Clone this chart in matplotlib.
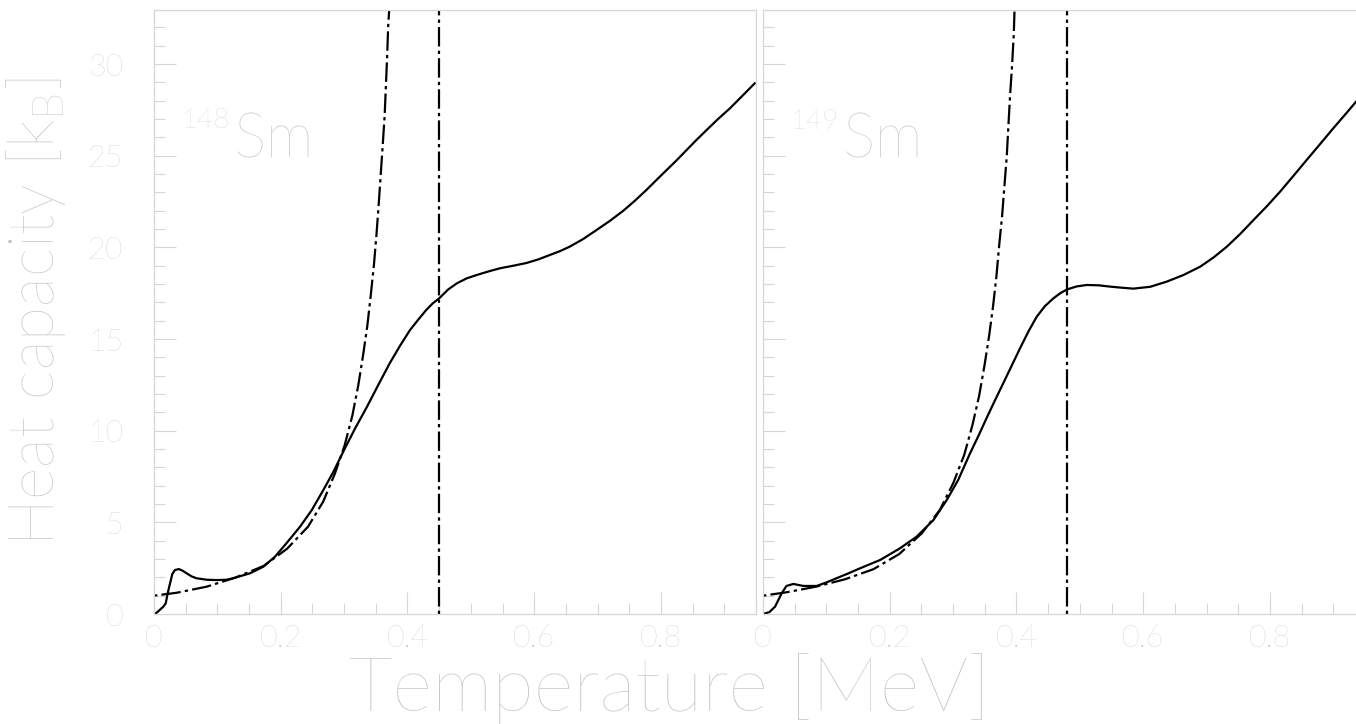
import matplotlib
matplotlib.use("Agg")
import matplotlib.pyplot as plt
from matplotlib.ticker import MultipleLocator

# ---------------- data ----------------
# 148Sm : solid curve
T148_solid = [0, 0.0042, 0.0147, 0.0185, 0.0216, 0.0253, 0.0289, 0.0331, 0.0394, 0.0452, 0.0515,
              0.0594, 0.067, 0.083, 0.099, 0.1147, 0.125, 0.1515, 0.1725, 0.191, 0.209, 0.2304,
              0.249, 0.267, 0.283, 0.300, 0.317, 0.336, 0.354, 0.372, 0.388, 0.404, 0.418, 0.430,
              0.440, 0.450, 0.4644, 0.478, 0.4934, 0.509, 0.527, 0.546, 0.567, 0.588, 0.607, 0.625,
              0.641, 0.656, 0.677, 0.6985, 0.7196, 0.7406, 0.759, 0.777, 0.793, 0.809, 0.825,
              0.8405, 0.856, 0.872, 0.890, 0.909, 0.928, 0.948]
C148_solid = [0, 0.07, 0.40, 0.58, 1.13, 1.67, 2.18, 2.40, 2.45, 2.36, 2.22,
              2.05, 1.95, 1.87, 1.85, 1.87, 1.95, 2.22, 2.58, 3.13, 3.86, 4.76,
              5.67, 6.75, 7.75, 8.95, 10.1, 11.3, 12.5, 13.68, 14.62, 15.49, 16.1, 16.6,
              16.95, 17.22, 17.71, 18.04, 18.31, 18.49, 18.68, 18.86, 19.0, 19.15, 19.35, 19.59,
              19.8, 20.04, 20.45, 20.95, 21.45, 22.0, 22.55, 23.13, 23.68, 24.22, 24.76,
              25.31, 25.86, 26.40, 27.0, 27.59, 28.25, 28.95]
# 148Sm : dash-dotted curve
T148_dd = [0, 0.036, 0.083, 0.128, 0.173, 0.210, 0.243, 0.267, 0.2856, 0.301, 0.313, 0.3224,
           0.330, 0.3366, 0.342, 0.347, 0.351, 0.3545, 0.3577, 0.361, 0.364, 0.366, 0.368, 0.3697,
           0.3713, 0.373]
C148_dd = [1.0, 1.16, 1.49, 1.98, 2.62, 3.56, 4.76, 6.13, 7.67, 9.22, 10.82, 12.48,
           14.13, 15.71, 17.37, 19.02, 20.66, 22.3, 23.93, 25.6, 27.2, 28.86, 30.5, 32.19,
           33.0, 34.0]
Tc148 = 0.450

# 149Sm : solid curve
T149_solid = [0, 0.010, 0.019, 0.0295, 0.037, 0.048, 0.0636, 0.0847, 0.100, 0.116, 0.135, 0.153,
              0.185, 0.216, 0.2425, 0.269, 0.290, 0.308, 0.3268, 0.340, 0.353, 0.366, 0.3793,
              0.3925, 0.4057, 0.419, 0.432, 0.445, 0.4583, 0.469, 0.480, 0.495, 0.511, 0.530,
              0.5477, 0.566, 0.5845, 0.611, 0.637, 0.664, 0.690, 0.711, 0.732, 0.753, 0.774,
              0.795, 0.816, 0.837, 0.858, 0.879, 0.900, 0.918, 0.936]
C149_solid = [0, 0.1, 0.4, 1.13, 1.53, 1.64, 1.53, 1.53, 1.72, 1.95, 2.22, 2.49,
              2.95, 3.58, 4.22, 5.13, 6.22, 7.31, 8.77, 9.72, 10.7, 11.65, 12.6,
              13.55, 14.5, 15.42, 16.22, 16.8, 17.22, 17.5, 17.71, 17.87, 17.95, 17.93,
              17.86, 17.8, 17.75, 17.85, 18.13, 18.5, 18.95, 19.45, 20.04, 20.73, 21.49,
              22.24, 23.04, 23.9, 24.77, 25.63, 26.50, 27.22, 27.95]
# 149Sm : dash-dotted curve
T149_dd = [0, 0.0363, 0.0837, 0.129, 0.174, 0.215, 0.2505, 0.279, 0.3005, 0.3178, 0.3304,
           0.341, 0.3494, 0.3568, 0.3631, 0.3684, 0.3726, 0.3773, 0.381, 0.3847, 0.3872,
           0.3899, 0.393, 0.3957, 0.397, 0.398]
C149_dd = [1.0, 1.18, 1.49, 1.89, 2.44, 3.27, 4.40, 5.67, 7.16, 8.71, 10.29,
           11.89, 13.53, 15.17, 16.80, 18.44, 20.08, 21.71, 23.35, 24.99, 26.6,
           28.28, 29.9, 31.6, 33.0, 34.0]
Tc149 = 0.480

x_ticks = [0, 0.2, 0.4, 0.6, 0.8]
x_ticklabels = ["0", "0.2", "0.4", "0.6", "0.8"]
y_ticks = [0, 5, 10, 15, 20, 25, 30]
y_ticklabels = ["0", "5", "10", "15", "20", "25", "30"]

# ---------------- style ----------------
plt.rcParams['font.family'] = ['Lato', 'DejaVu Sans']
plt.rcParams['lines.scale_dashes'] = False
TXT = '#c6c6c6'
FRAME = '#d6d6d6'
DASHDOT = (0, (2.4, 3.0, 14.0, 3.0))

W, H = 1356, 724
fig = plt.figure(figsize=(W / 100, H / 100), dpi=100)

def px_axes(x0, x1, ytop, ybot):
    return fig.add_axes([x0 / W, 1 - ybot / H, (x1 - x0) / W, (ybot - ytop) / H])

axL = px_axes(154, 756, 10, 614)
axR = px_axes(763, 1365, 10, 614)

panels = [
    (axL, T148_solid, C148_solid, T148_dd, C148_dd, Tc148, "148"),
    (axR, T149_solid, C149_solid, T149_dd, C149_dd, Tc149, "149"),
]

for ax, ts, cs, td, cd, tc, mass in panels:
    ax.set_xlim(0, 0.95)
    ax.set_ylim(0, 32.95)
    ax.plot(ts, cs, color='black', lw=1.6, solid_joinstyle='round')
    ax.plot(td, cd, color='black', lw=1.6, linestyle=DASHDOT, dash_capstyle='butt')
    ax.axvline(tc, color='black', lw=1.6, linestyle=DASHDOT, dash_capstyle='butt')
    for s in ax.spines.values():
        s.set_color(FRAME)
        s.set_linewidth(0.9)
    ax.set_xticks(x_ticks)
    ax.set_xticklabels(x_ticklabels)
    ax.set_yticks(y_ticks)
    ax.xaxis.set_minor_locator(MultipleLocator(0.05))
    ax.yaxis.set_minor_locator(MultipleLocator(1))
    ax.tick_params(which='both', direction='in', color=FRAME, width=0.8,
                   top=False, right=False, labelcolor=TXT, labelsize=22)
    ax.tick_params(which='major', length=16)
    ax.tick_params(which='minor', length=8)
    ax.tick_params(axis='x', which='major', pad=7)
    ax.tick_params(axis='y', which='major', pad=22)
    # nucleus label
    ax.text(0.044, 26.5, mass, color=TXT, fontsize=20, fontweight='light',
            ha='left', va='baseline')
    ax.text(0.125, 24.93, "Sm", color=TXT, fontsize=44, fontweight='light',
            ha='left', va='baseline')
    for lab in ax.get_xticklabels() + ax.get_yticklabels():
        lab.set_fontweight('light')

axL.set_yticklabels(y_ticklabels)
axR.set_yticklabels([])

fig.text(36 / W, 1 - 312 / H, r"Heat capacity [k$_{\mathregular{B}}$]", rotation=90,
         color=TXT, fontsize=45, fontweight='light', ha='center', va='center')
fig.text(670 / W, 1 - 711 / H, "Temperature [MeV]", color=TXT, fontsize=55,
         fontweight='light', ha='center', va='baseline')

fig.savefig("out.png", dpi=100, facecolor='white')
